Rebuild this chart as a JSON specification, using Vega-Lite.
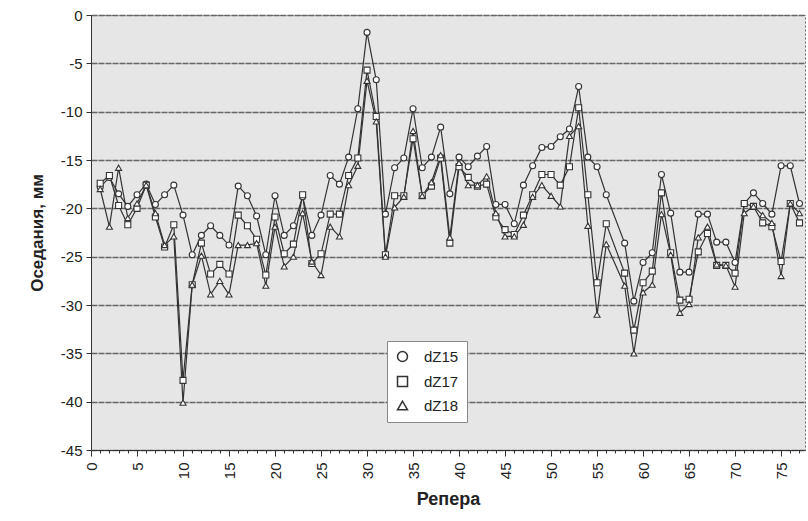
{
  "$schema": "https://vega.github.io/schema/vega-lite/v6.json",
  "autosize": "none",
  "width": 714,
  "height": 435,
  "padding": {"left": 91, "top": 15, "right": 3, "bottom": 71},
  "background": "white",
  "config": {
    "font": "Liberation Sans",
    "view": {"fill": "#e6e6e6", "stroke": "#666", "strokeDash": [2, 2], "strokeWidth": 1}
  },
  "datasets": {
    "d": [
      {"r":1,"s":"dZ15","v":-17.8},{"r":2,"s":"dZ15","v":-16.8},{"r":3,"s":"dZ15","v":-18.5},{"r":4,"s":"dZ15","v":-19.8},{"r":5,"s":"dZ15","v":-18.6},{"r":6,"s":"dZ15","v":-17.5},{"r":7,"s":"dZ15","v":-19.6},{"r":8,"s":"dZ15","v":-18.6},{"r":9,"s":"dZ15","v":-17.6},{"r":10,"s":"dZ15","v":-20.7},
      {"r":11,"s":"dZ15","v":-24.8},{"r":12,"s":"dZ15","v":-22.8},{"r":13,"s":"dZ15","v":-21.8},{"r":14,"s":"dZ15","v":-22.8},{"r":15,"s":"dZ15","v":-23.8},{"r":16,"s":"dZ15","v":-17.7},{"r":17,"s":"dZ15","v":-18.7},{"r":18,"s":"dZ15","v":-20.8},{"r":19,"s":"dZ15","v":-24.8},{"r":20,"s":"dZ15","v":-18.7},
      {"r":21,"s":"dZ15","v":-22.8},{"r":22,"s":"dZ15","v":-21.8},{"r":23,"s":"dZ15","v":-18.8},{"r":24,"s":"dZ15","v":-22.8},{"r":25,"s":"dZ15","v":-20.7},{"r":26,"s":"dZ15","v":-16.6},{"r":27,"s":"dZ15","v":-17.5},{"r":28,"s":"dZ15","v":-14.7},{"r":29,"s":"dZ15","v":-9.7},{"r":30,"s":"dZ15","v":-1.8},
      {"r":31,"s":"dZ15","v":-6.7},{"r":32,"s":"dZ15","v":-20.6},{"r":33,"s":"dZ15","v":-15.8},{"r":34,"s":"dZ15","v":-14.8},{"r":35,"s":"dZ15","v":-9.7},{"r":36,"s":"dZ15","v":-15.8},{"r":37,"s":"dZ15","v":-14.7},{"r":38,"s":"dZ15","v":-11.6},{"r":39,"s":"dZ15","v":-18.5},{"r":40,"s":"dZ15","v":-14.7},
      {"r":41,"s":"dZ15","v":-15.7},{"r":42,"s":"dZ15","v":-14.6},{"r":43,"s":"dZ15","v":-13.6},{"r":44,"s":"dZ15","v":-19.6},{"r":45,"s":"dZ15","v":-19.6},{"r":46,"s":"dZ15","v":-21.6},{"r":47,"s":"dZ15","v":-17.6},{"r":48,"s":"dZ15","v":-15.6},{"r":49,"s":"dZ15","v":-13.7},{"r":50,"s":"dZ15","v":-13.6},
      {"r":51,"s":"dZ15","v":-12.6},{"r":52,"s":"dZ15","v":-11.8},{"r":53,"s":"dZ15","v":-7.4},{"r":54,"s":"dZ15","v":-14.7},{"r":55,"s":"dZ15","v":-15.7},{"r":56,"s":"dZ15","v":-18.6},{"r":58,"s":"dZ15","v":-23.6},{"r":59,"s":"dZ15","v":-29.6},{"r":60,"s":"dZ15","v":-25.6},
      {"r":61,"s":"dZ15","v":-24.6},{"r":62,"s":"dZ15","v":-16.5},{"r":63,"s":"dZ15","v":-20.5},{"r":64,"s":"dZ15","v":-26.6},{"r":65,"s":"dZ15","v":-26.6},{"r":66,"s":"dZ15","v":-20.6},{"r":67,"s":"dZ15","v":-20.6},{"r":68,"s":"dZ15","v":-23.5},{"r":69,"s":"dZ15","v":-23.5},{"r":70,"s":"dZ15","v":-25.6},
      {"r":71,"s":"dZ15","v":-19.5},{"r":72,"s":"dZ15","v":-18.4},{"r":73,"s":"dZ15","v":-19.5},{"r":74,"s":"dZ15","v":-20.6},{"r":75,"s":"dZ15","v":-15.6},{"r":76,"s":"dZ15","v":-15.6},{"r":77,"s":"dZ15","v":-19.5},

      {"r":1,"s":"dZ17","v":-17.4},{"r":2,"s":"dZ17","v":-16.6},{"r":3,"s":"dZ17","v":-19.7},{"r":4,"s":"dZ17","v":-21.7},{"r":5,"s":"dZ17","v":-20},{"r":6,"s":"dZ17","v":-17.6},{"r":7,"s":"dZ17","v":-20.9},{"r":8,"s":"dZ17","v":-24},{"r":9,"s":"dZ17","v":-21.7},{"r":10,"s":"dZ17","v":-37.8},
      {"r":11,"s":"dZ17","v":-27.9},{"r":12,"s":"dZ17","v":-23.6},{"r":13,"s":"dZ17","v":-26.8},{"r":14,"s":"dZ17","v":-25.8},{"r":15,"s":"dZ17","v":-26.8},{"r":16,"s":"dZ17","v":-20.7},{"r":17,"s":"dZ17","v":-21.8},{"r":18,"s":"dZ17","v":-23.2},{"r":19,"s":"dZ17","v":-26.9},{"r":20,"s":"dZ17","v":-20.9},
      {"r":21,"s":"dZ17","v":-24.7},{"r":22,"s":"dZ17","v":-23.7},{"r":23,"s":"dZ17","v":-18.6},{"r":24,"s":"dZ17","v":-25.7},{"r":25,"s":"dZ17","v":-24.7},{"r":26,"s":"dZ17","v":-20.6},{"r":27,"s":"dZ17","v":-20.6},{"r":28,"s":"dZ17","v":-16.6},{"r":29,"s":"dZ17","v":-14.8},{"r":30,"s":"dZ17","v":-5.7},
      {"r":31,"s":"dZ17","v":-10.5},{"r":32,"s":"dZ17","v":-24.8},{"r":33,"s":"dZ17","v":-18.7},{"r":34,"s":"dZ17","v":-18.7},{"r":35,"s":"dZ17","v":-12.8},{"r":36,"s":"dZ17","v":-18.7},{"r":37,"s":"dZ17","v":-17.7},{"r":38,"s":"dZ17","v":-14.8},{"r":39,"s":"dZ17","v":-23.6},{"r":40,"s":"dZ17","v":-15.7},
      {"r":41,"s":"dZ17","v":-16.8},{"r":42,"s":"dZ17","v":-17.7},{"r":43,"s":"dZ17","v":-17.5},{"r":44,"s":"dZ17","v":-20.9},{"r":45,"s":"dZ17","v":-22.2},{"r":46,"s":"dZ17","v":-22.7},{"r":47,"s":"dZ17","v":-20.7},{"r":48,"s":"dZ17","v":-18.6},{"r":49,"s":"dZ17","v":-16.5},{"r":50,"s":"dZ17","v":-16.5},
      {"r":51,"s":"dZ17","v":-17.6},{"r":52,"s":"dZ17","v":-15.7},{"r":53,"s":"dZ17","v":-9.6},{"r":54,"s":"dZ17","v":-18.6},{"r":55,"s":"dZ17","v":-27.7},{"r":56,"s":"dZ17","v":-21.6},{"r":58,"s":"dZ17","v":-26.7},{"r":59,"s":"dZ17","v":-32.6},{"r":60,"s":"dZ17","v":-27.7},
      {"r":61,"s":"dZ17","v":-26.5},{"r":62,"s":"dZ17","v":-18.4},{"r":63,"s":"dZ17","v":-24.6},{"r":64,"s":"dZ17","v":-29.5},{"r":65,"s":"dZ17","v":-29.4},{"r":66,"s":"dZ17","v":-24.5},{"r":67,"s":"dZ17","v":-22.6},{"r":68,"s":"dZ17","v":-25.9},{"r":69,"s":"dZ17","v":-25.9},{"r":70,"s":"dZ17","v":-26.7},
      {"r":71,"s":"dZ17","v":-19.5},{"r":72,"s":"dZ17","v":-19.8},{"r":73,"s":"dZ17","v":-21.5},{"r":74,"s":"dZ17","v":-21.9},{"r":75,"s":"dZ17","v":-25.5},{"r":76,"s":"dZ17","v":-19.5},{"r":77,"s":"dZ17","v":-21.5},

      {"r":1,"s":"dZ18","v":-18},{"r":2,"s":"dZ18","v":-21.9},{"r":3,"s":"dZ18","v":-15.8},{"r":4,"s":"dZ18","v":-21},{"r":5,"s":"dZ18","v":-19.5},{"r":6,"s":"dZ18","v":-17.6},{"r":7,"s":"dZ18","v":-20.5},{"r":8,"s":"dZ18","v":-23.8},{"r":9,"s":"dZ18","v":-22.9},{"r":10,"s":"dZ18","v":-40.1},
      {"r":11,"s":"dZ18","v":-27.9},{"r":12,"s":"dZ18","v":-24.9},{"r":13,"s":"dZ18","v":-28.9},{"r":14,"s":"dZ18","v":-27.5},{"r":15,"s":"dZ18","v":-28.9},{"r":16,"s":"dZ18","v":-23.8},{"r":17,"s":"dZ18","v":-23.8},{"r":18,"s":"dZ18","v":-23.6},{"r":19,"s":"dZ18","v":-28},{"r":20,"s":"dZ18","v":-21.9},
      {"r":21,"s":"dZ18","v":-26},{"r":22,"s":"dZ18","v":-25},{"r":23,"s":"dZ18","v":-20.5},{"r":24,"s":"dZ18","v":-25.5},{"r":25,"s":"dZ18","v":-26.9},{"r":26,"s":"dZ18","v":-21.9},{"r":27,"s":"dZ18","v":-22.9},{"r":28,"s":"dZ18","v":-17.6},{"r":29,"s":"dZ18","v":-15.6},{"r":30,"s":"dZ18","v":-6.8},
      {"r":31,"s":"dZ18","v":-11},{"r":32,"s":"dZ18","v":-25},{"r":33,"s":"dZ18","v":-19.9},{"r":34,"s":"dZ18","v":-18.8},{"r":35,"s":"dZ18","v":-12},{"r":36,"s":"dZ18","v":-18.7},{"r":37,"s":"dZ18","v":-17.3},{"r":38,"s":"dZ18","v":-14.5},{"r":39,"s":"dZ18","v":-23},{"r":40,"s":"dZ18","v":-15.3},
      {"r":41,"s":"dZ18","v":-17.6},{"r":42,"s":"dZ18","v":-17.6},{"r":43,"s":"dZ18","v":-16.7},{"r":44,"s":"dZ18","v":-20.5},{"r":45,"s":"dZ18","v":-22.9},{"r":46,"s":"dZ18","v":-22.9},{"r":47,"s":"dZ18","v":-21.7},{"r":48,"s":"dZ18","v":-18.8},{"r":49,"s":"dZ18","v":-17.6},{"r":50,"s":"dZ18","v":-18.7},
      {"r":51,"s":"dZ18","v":-19.8},{"r":52,"s":"dZ18","v":-12.5},{"r":53,"s":"dZ18","v":-11.5},{"r":54,"s":"dZ18","v":-21.8},{"r":55,"s":"dZ18","v":-31},{"r":56,"s":"dZ18","v":-23.7},{"r":58,"s":"dZ18","v":-28},{"r":59,"s":"dZ18","v":-35},{"r":60,"s":"dZ18","v":-28.7},
      {"r":61,"s":"dZ18","v":-27.9},{"r":62,"s":"dZ18","v":-20.6},{"r":63,"s":"dZ18","v":-24.8},{"r":64,"s":"dZ18","v":-30.8},{"r":65,"s":"dZ18","v":-29.9},{"r":66,"s":"dZ18","v":-23},{"r":67,"s":"dZ18","v":-21.9},{"r":68,"s":"dZ18","v":-25.8},{"r":69,"s":"dZ18","v":-25.9},{"r":70,"s":"dZ18","v":-28.1},
      {"r":71,"s":"dZ18","v":-20.5},{"r":72,"s":"dZ18","v":-19.8},{"r":73,"s":"dZ18","v":-20.7},{"r":74,"s":"dZ18","v":-21.5},{"r":75,"s":"dZ18","v":-27},{"r":76,"s":"dZ18","v":-19.5},{"r":77,"s":"dZ18","v":-20.5}
    ]
  },
  "data": {"name": "d"},
  "encoding": {
    "x": {
      "field": "r", "type": "quantitative",
      "scale": {"domain": [0, 77.6], "nice": false, "zero": false},
      "axis": {
        "title": "Репера",
        "titleFont": "Liberation Sans", "titleFontSize": 18, "titleFontWeight": "bold", "titleColor": "#222", "titlePadding": 12,
        "values": [0,1,2,3,4,5,6,7,8,9,10,11,12,13,14,15,16,17,18,19,20,21,22,23,24,25,26,27,28,29,30,31,32,33,34,35,36,37,38,39,40,41,42,43,44,45,46,47,48,49,50,51,52,53,54,55,56,57,58,59,60,61,62,63,64,65,66,67,68,69,70,71,72,73,74,75,76,77],
        "labelExpr": "datum.value % 5 === 0 ? toString(datum.value) : ''",
        "labelOverlap": false,
        "labelAngle": -90,
        "labelAlign": "right",
        "labelBaseline": "middle",
        "labelFontSize": 15,
        "labelColor": "#222",
        "labelPadding": 6,
        "grid": false,
        "domainColor": "#333",
        "tickColor": "#333",
        "tickSize": {"condition": {"test": "datum.value % 5 === 0", "value": 6}, "value": 3}
      }
    },
    "y": {
      "field": "v", "type": "quantitative",
      "scale": {"domain": [-45, 0], "nice": false},
      "axis": {
        "title": "Оседания, мм",
        "titleFont": "Liberation Sans", "titleFontSize": 17, "titleFontWeight": "bold", "titleColor": "#222", "titlePadding": 14,
        "values": [-45,-40,-35,-30,-25,-20,-15,-10,-5,0],
        "labelExpr": "toString(datum.value)",
        "labelFontSize": 15,
        "labelColor": "#222",
        "labelPadding": 4,
        "tickSize": 5,
        "tickColor": "#333",
        "domainColor": "#333",
        "grid": true,
        "gridColor": "#666",
        "gridWidth": 1.3,
        "gridDash": [6, 1]
      }
    }
  },
  "layer": [
    {
      "mark": {"type": "line", "stroke": "#333", "strokeWidth": 1.2},
      "encoding": {"detail": {"field": "s", "type": "nominal"}}
    },
    {
      "mark": {"type": "point", "filled": false, "fill": "white", "fillOpacity": 1, "stroke": "#333", "strokeWidth": 1.1, "size": 36, "opacity": 1},
      "encoding": {
        "shape": {
          "field": "s", "type": "nominal",
          "scale": {"domain": ["dZ15", "dZ17", "dZ18"], "range": ["circle", "square", "triangle-up"]},
          "legend": {
            "title": null,
            "orient": "none",
            "legendX": 296,
            "legendY": 326,
            "fillColor": "white",
            "strokeColor": "#888",
            "padding": 8,
            "rowPadding": 8,
            "labelFontSize": 15,
            "labelColor": "#222",
            "symbolSize": 100,
            "labelOffset": 14,
            "encode": {
              "symbols": {
                "update": {
                  "shape": {"signal": "datum.value === 'dZ15' ? 'M-3.2,0H-0.7M0.7,0H2.6M-0.7,0A0.7,0.7 0 1,0 0.7,0A0.7,0.7 0 1,0 -0.7,0Z' : datum.value === 'dZ17' ? 'M-3.2,0H-0.65M0.65,0H2.6M-0.65,-0.65H0.65V0.65H-0.65Z' : 'M-3.2,0.45H-0.8M0.8,0.45H2.6M0,-0.75L0.85,0.6H-0.85Z'"},
                  "stroke": {"value": "#333"},
                  "fill": {"value": "white"},
                  "fillOpacity": {"value": 1},
                  "strokeWidth": {"value": 1.2},
                  "opacity": {"value": 1},
                  "size": {"value": 100},
                  "xc": {"value": 18}
                }
              }
            }
          }
        }
      }
    }
  ]
}
